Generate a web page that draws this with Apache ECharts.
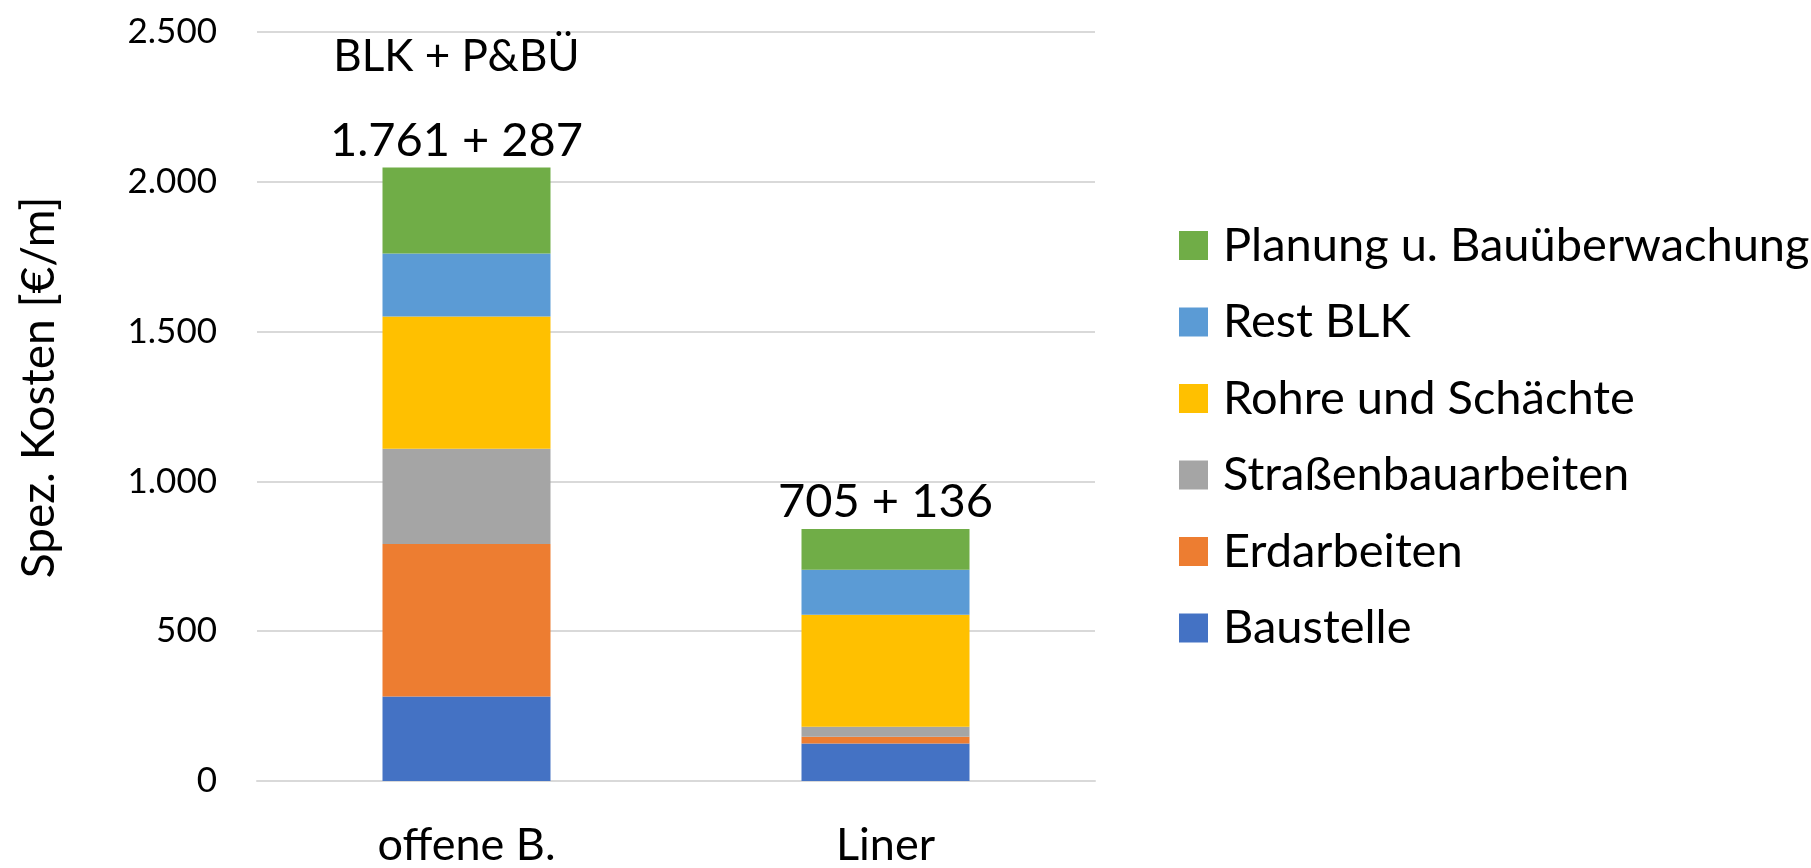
<!DOCTYPE html>
<html>
<head>
<meta charset="utf-8">
<script src="https://cdn.jsdelivr.net/npm/echarts@6/dist/echarts.min.js"></script>
<style>
  html, body { margin: 0; padding: 0; background: #fff; }
  #chart { width: 1811px; height: 868px; }
</style>
</head>
<body>
<div id="chart"></div>
<script>
// Kategorien
const categories = ['offene B.', 'Liner']

// Kostenanteile je Kategorie [€/m]
const baustelle = [282, 125]
const erdarbeiten = [509, 23]
const strassenbau = [318, 33]
const rohre = [441, 374]
const restBlk = [211, 150]
const planung = [287, 136]

const seriesNames = ['Baustelle', 'Erdarbeiten', 'Straßenbauarbeiten', 'Rohre und Schächte', 'Rest BLK', 'Planung u. Bauüberwachung']
const seriesValues = [baustelle, erdarbeiten, strassenbau, rohre, restBlk, planung]
const seriesColors = ['#4472C4', '#ED7D31', '#A5A5A5', '#FFC000', '#5B9BD5', '#70AD47']

// y-Achse
const yTicks = { min: 0, max: 2500, interval: 500 }

const FONT = 'Lato, "Open Sans", sans-serif'

// Tausenderpunkt wie im Original
const fmt = (v) => String(Math.round(v)).replace(/\B(?=(\d{3})+(?!\d))/g, '.')

// BLK-Summe = alles außer Planung
const blkSum = (i) => seriesValues.slice(0, 5).reduce((s, arr) => s + arr[i], 0)

// Beschriftung oben auf dem gestapelten Balken
const topLabel = {
  show: true,
  position: 'top',
  distance: 1,
  formatter: (p) => {
    const txt = fmt(blkSum(p.dataIndex)) + ' + ' + fmt(planung[p.dataIndex])
    return p.dataIndex === 0 ? '{a|BLK + P&BÜ}\n{b|' + txt + '}' : '{b|' + txt + '}'
  },
  rich: {
    a: { fontSize: 44, lineHeight: 116, color: '#000', fontFamily: FONT },
    b: { fontSize: 47, lineHeight: 52, color: '#000', fontFamily: FONT },
  },
}

const chart = echarts.init(document.getElementById('chart'))

const option = {
  animation: false,
  textStyle: { fontFamily: FONT, color: '#000' },
  grid: { left: 257, right: 716, top: 32, bottom: 85 },
  legend: {
    orient: 'vertical',
    left: 1174,
    top: 217,
    itemWidth: 29,
    itemHeight: 29,
    itemGap: 29.5,
    icon: 'rect',
    data: seriesNames.slice().reverse(),
    textStyle: { fontFamily: FONT, fontSize: 47, color: '#000', padding: [0, 0, 0, 10] },
  },
  xAxis: {
    type: 'category',
    data: categories,
    axisLine: { lineStyle: { color: '#D9D9D9', width: 2 } },
    axisTick: { show: false },
    axisLabel: { fontSize: 45, color: '#000', margin: 42, fontFamily: FONT },
  },
  yAxis: {
    type: 'value',
    min: yTicks.min,
    max: yTicks.max,
    interval: yTicks.interval,
    name: 'Spez. Kosten [€/m]',
    nameLocation: 'middle',
    nameGap: 195,
    nameTextStyle: { fontSize: 46, color: '#000', fontFamily: FONT, padding: [0, 0, 0, 38] },
    axisLine: { show: false },
    axisTick: { show: false },
    splitLine: { lineStyle: { color: '#D9D9D9', width: 2 } },
    axisLabel: { fontSize: 35, color: '#000', margin: 40, fontFamily: FONT, formatter: (v) => fmt(v) },
  },
  series: seriesNames.map((name, idx) => {
    const isTop = idx === seriesNames.length - 1
    return {
      name,
      type: 'bar',
      stack: 'total',
      barWidth: 168,
      // erste Beschriftung ist im Original leicht nach links versetzt
      data: isTop
        ? seriesValues[idx].map((v, i) => ({ value: v, label: { offset: i === 0 ? [-10, 0] : [0, 0] } }))
        : seriesValues[idx],
      itemStyle: { color: seriesColors[idx] },
      label: isTop ? topLabel : { show: false },
    }
  }),
}

chart.setOption(option)
window.addEventListener('resize', () => chart.resize())
</script>
</body>
</html>
